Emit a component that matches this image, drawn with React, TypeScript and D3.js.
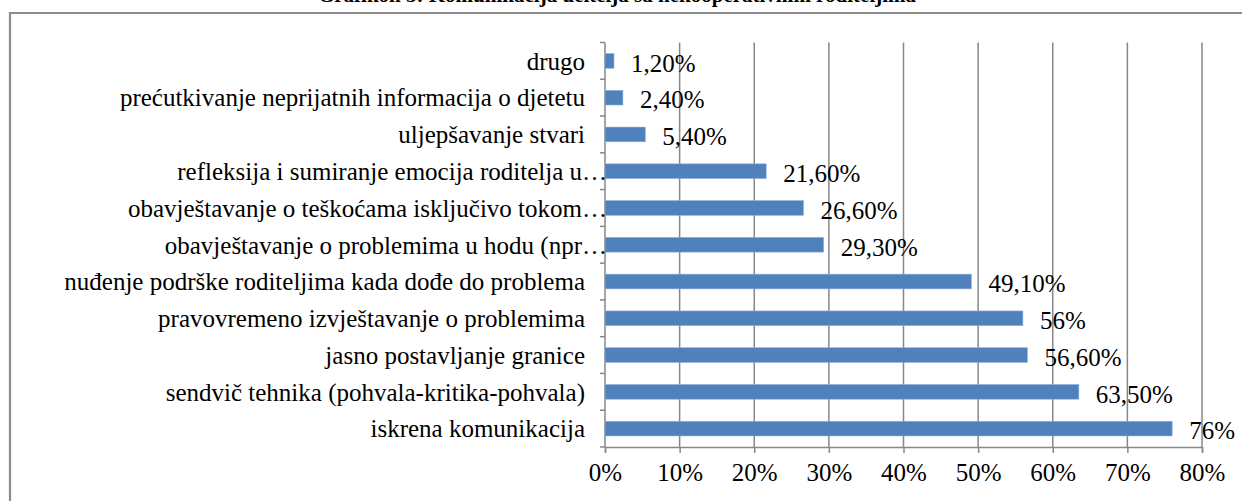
import React, { useEffect, useRef } from 'react';
import * as d3 from 'd3';

const titleText = 'Grafikon 5: Komunikacija učitelja sa nekooperativnim roditeljima';

const categories = [
  'drugo',
  'prećutkivanje neprijatnih informacija o djetetu',
  'uljepšavanje stvari',
  'refleksija i sumiranje emocija roditelja u…',
  'obavještavanje o teškoćama isključivo tokom…',
  'obavještavanje o problemima u hodu (npr…',
  'nuđenje podrške roditeljima kada dođe do problema',
  'pravovremeno izvještavanje o problemima',
  'jasno postavljanje granice',
  'sendvič tehnika (pohvala-kritika-pohvala)',
  'iskrena komunikacija',
];

const values = [1.2, 2.4, 5.4, 21.6, 26.6, 29.3, 49.1, 56, 56.6, 63.5, 76];

const valueLabels = [
  '1,20%', '2,40%', '5,40%', '21,60%', '26,60%', '29,30%',
  '49,10%', '56%', '56,60%', '63,50%', '76%',
];

const xTicks = [0, 10, 20, 30, 40, 50, 60, 70, 80];

const W = 1242;
const H = 501;

const App = () => {
  const ref = useRef<SVGSVGElement>(null);

  useEffect(() => {
    const svg = d3.select(ref.current);
    svg.selectAll('*').remove();

    const font = '"Liberation Serif", "Times New Roman", serif';
    const left = 605;
    const right = 1202;
    const top = 42.5;
    const bottom = 447;

    const x = d3.scaleLinear().domain([0, 80]).range([left, right]);
    const y = d3.scaleBand().domain(categories).range([top, bottom]).paddingInner(0.6).paddingOuter(0.3);

    svg.append('rect').attr('width', W).attr('height', H).attr('fill', '#fff');

    // title (cut off at the top edge)
    svg.append('text')
      .attr('x', 617)
      .attr('y', 2)
      .attr('text-anchor', 'middle')
      .style('font-family', font)
      .style('font-size', '21px')
      .style('font-weight', 'bold')
      .text(titleText);

    // outer frame
    svg.append('path')
      .attr('d', `M10,${H + 5} V13 H${W + 5}`)
      .attr('fill', 'none')
      .attr('stroke', '#8c8c8c')
      .attr('stroke-width', 2.2);

    // gridlines
    svg.append('g')
      .selectAll('line')
      .data(xTicks.slice(1))
      .enter()
      .append('line')
      .attr('x1', (d) => x(d))
      .attr('x2', (d) => x(d))
      .attr('y1', top)
      .attr('y2', bottom)
      .attr('stroke', '#878787')
      .attr('stroke-width', 1.5);

    // bottom axis
    const xAxis = svg.append('g')
      .attr('transform', `translate(0,${bottom})`)
      .call(d3.axisBottom(x).tickValues(xTicks).tickSize(6).tickPadding(10).tickFormat((d) => `${d}%`));
    xAxis.select('.domain').attr('stroke', '#878787').attr('stroke-width', 1.5);
    xAxis.selectAll('.tick line').attr('stroke', '#878787').attr('stroke-width', 1.5);
    xAxis.selectAll('text')
      .attr('fill', '#000')
      .style('font-family', font)
      .style('font-size', '25px');

    // left axis line + ticks at band edges
    const bounds = categories.map((c) => (y(c) as number) - (y.step() * y.paddingInner()) / 2);
    bounds.push(bottom);
    svg.append('line')
      .attr('x1', left).attr('x2', left)
      .attr('y1', top).attr('y2', bottom)
      .attr('stroke', '#878787').attr('stroke-width', 1.5);
    svg.append('g')
      .selectAll('line')
      .data(bounds)
      .enter()
      .append('line')
      .attr('x1', left - 5).attr('x2', left)
      .attr('y1', (d) => d).attr('y2', (d) => d)
      .attr('stroke', '#878787').attr('stroke-width', 1.5);

    // bars
    svg.append('g')
      .selectAll('rect')
      .data(values)
      .enter()
      .append('rect')
      .attr('x', left)
      .attr('y', (_, i) => y(categories[i]) as number)
      .attr('width', (d) => x(d) - left)
      .attr('height', y.bandwidth())
      .attr('fill', '#4f81bd')
      .attr('stroke', '#8fb0d8')
      .attr('stroke-width', 0.6);

    // category labels
    svg.append('g')
      .selectAll('text')
      .data(categories)
      .enter()
      .append('text')
      .attr('x', (d) => (d.endsWith('…') ? left + 2 : left - 20))
      .attr('y', (d) => (y(d) as number) + y.bandwidth() / 2)
      .attr('dy', '0.35em')
      .attr('text-anchor', 'end')
      .style('font-family', font)
      .style('font-size', '25px')
      .text((d) => d);

    // value labels
    svg.append('g')
      .selectAll('text')
      .data(values)
      .enter()
      .append('text')
      .attr('x', (d) => x(d) + 17)
      .attr('y', (_, i) => (y(categories[i]) as number) + y.bandwidth() / 2 + 2)
      .attr('dy', '0.35em')
      .style('font-family', font)
      .style('font-size', '25px')
      .text((_, i) => valueLabels[i]);
  }, []);

  return (
    <svg
      ref={ref}
      width={W}
      height={H}
      style={{ position: 'absolute', left: 0, top: 0, display: 'block' }}
    />
  );
};

export default App;
